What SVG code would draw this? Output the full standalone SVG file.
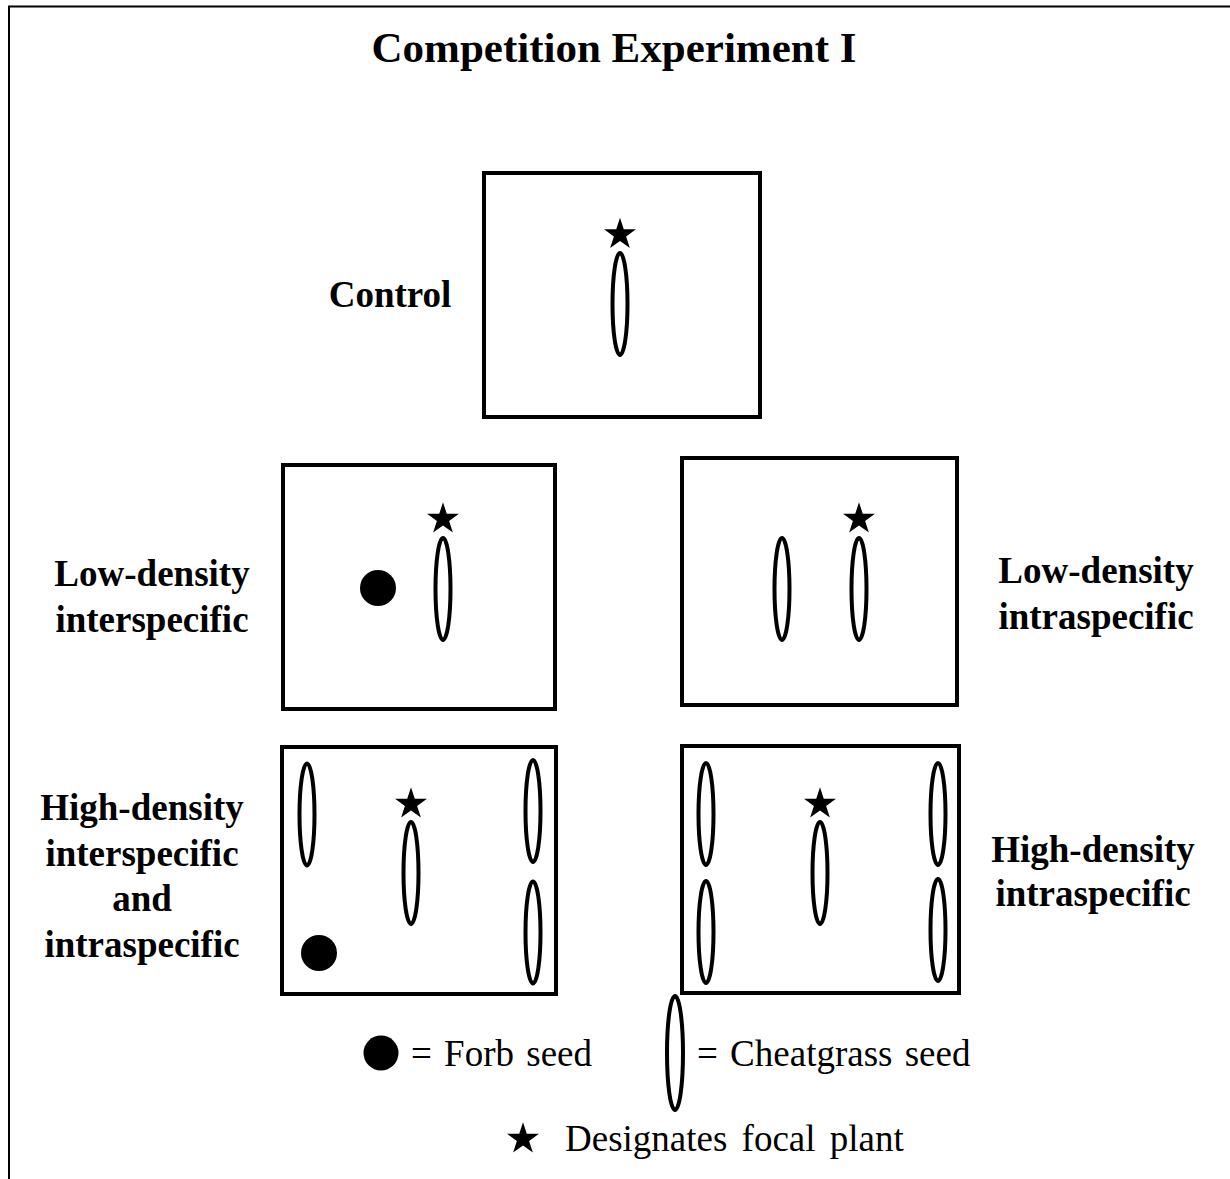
<svg xmlns="http://www.w3.org/2000/svg" xmlns:xlink="http://www.w3.org/1999/xlink" width="1230" height="1179" viewBox="0 0 1230 1179">
<style>
.box{fill:none;stroke:#000;stroke-width:4}
.seed{fill:#fff;stroke:#000;stroke-width:4}
.forb{fill:#000}
.lbl{font-family:"Liberation Serif","Times New Roman",serif;font-weight:bold;font-size:37px;fill:#000;text-anchor:middle}
.leg{font-family:"Liberation Serif","Times New Roman",serif;font-size:37px;fill:#000;word-spacing:3px}
</style>
<defs>
<path id="star" d="M0,-16.8 L3.77,-5.19 L15.98,-5.19 L6.11,1.98 L9.87,13.59 L0,6.42 L-9.87,13.59 L-6.11,1.98 L-15.98,-5.19 L-3.77,-5.19 Z" fill="#000"/>
</defs>
<rect width="1230" height="1179" fill="#fff"/>
<g id="frame">
<path d="M9,1179 V6.5 H1230" fill="none" stroke="#000" stroke-width="2"/>
</g>
<text id="title" x="614" y="62" style="font-family:'Liberation Serif','Times New Roman',serif;font-weight:bold;font-size:43px;text-anchor:middle">Competition Experiment I</text>

<g id="control">
<rect class="box" x="484" y="173" width="276" height="244"/>
<use xlink:href="#star" x="620" y="234.5"/>
<ellipse class="seed" cx="620" cy="304" rx="7.5" ry="51"/>
<text class="lbl" x="390" y="307">Control</text>
</g>

<g id="low-inter">
<rect class="box" x="283" y="465" width="272" height="244"/>
<circle class="forb" cx="378" cy="588" r="18"/>
<use xlink:href="#star" x="443" y="519"/>
<ellipse class="seed" cx="443" cy="589" rx="7.5" ry="51"/>
<text class="lbl" x="152" y="586">Low-density</text>
<text class="lbl" x="152" y="632">interspecific</text>
</g>

<g id="low-intra">
<rect class="box" x="682" y="458" width="275" height="247"/>
<ellipse class="seed" cx="782" cy="589" rx="7.5" ry="51"/>
<use xlink:href="#star" x="859" y="519"/>
<ellipse class="seed" cx="859" cy="589" rx="7.5" ry="51"/>
<text class="lbl" x="1096" y="583">Low-density</text>
<text class="lbl" x="1096" y="629">intraspecific</text>
</g>

<g id="high-inter">
<rect class="box" x="282" y="747" width="274" height="247"/>
<ellipse class="seed" cx="307" cy="814.5" rx="7.5" ry="51"/>
<use xlink:href="#star" x="411" y="804"/>
<ellipse class="seed" cx="411" cy="873" rx="7.5" ry="51"/>
<ellipse class="seed" cx="533" cy="811" rx="7.5" ry="51"/>
<ellipse class="seed" cx="533" cy="932.5" rx="7.5" ry="51"/>
<circle class="forb" cx="319" cy="953" r="18"/>
<text class="lbl" x="142" y="820">High-density</text>
<text class="lbl" x="142" y="866">interspecific</text>
<text class="lbl" x="142" y="911">and</text>
<text class="lbl" x="142" y="957">intraspecific</text>
</g>

<g id="high-intra">
<rect class="box" x="682" y="746" width="277" height="247"/>
<ellipse class="seed" cx="706" cy="814" rx="7.5" ry="51"/>
<ellipse class="seed" cx="706" cy="932" rx="7.5" ry="51"/>
<use xlink:href="#star" x="820" y="804"/>
<ellipse class="seed" cx="820" cy="873" rx="7.5" ry="51"/>
<ellipse class="seed" cx="938" cy="814" rx="7.5" ry="51"/>
<ellipse class="seed" cx="938" cy="930" rx="7.5" ry="51"/>
<text class="lbl" x="1093" y="862">High-density</text>
<text class="lbl" x="1093" y="906">intraspecific</text>
</g>

<g id="legend">
<circle class="forb" cx="381" cy="1053" r="17.5"/>
<text class="leg" x="411" y="1066">= Forb seed</text>
<ellipse class="seed" cx="675" cy="1053" rx="8" ry="57"/>
<text class="leg" x="697" y="1066">= Cheatgrass seed</text>
<use xlink:href="#star" x="523" y="1139"/>
<text class="leg" x="565" y="1151" style="word-spacing:5px">Designates focal plant</text>
</g>
<g id="connectors"/>
</svg>
